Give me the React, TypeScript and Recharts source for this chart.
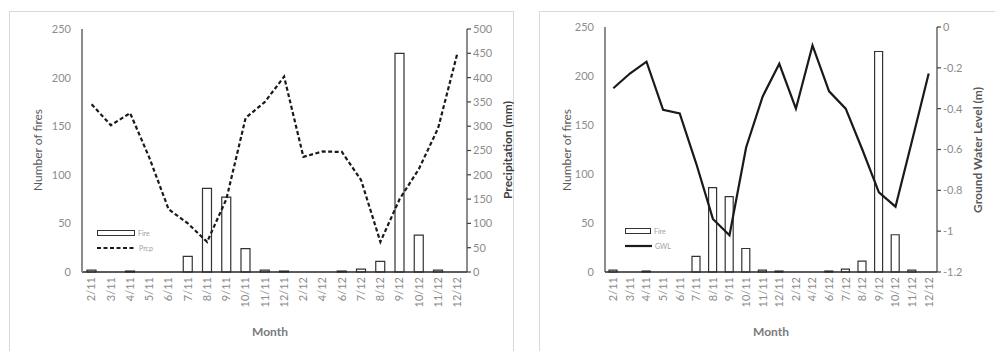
import React from "react";
import { Bar, ComposedChart, Line, XAxis, YAxis } from "recharts";

const MONTHS = [
  "2/11", "3/11", "4/11", "5/11", "6/11", "7/11", "8/11", "9/11", "10/11", "11/11",
  "12/11", "2/12", "4/12", "6/12", "7/12", "8/12", "9/12", "10/12", "11/12", "12/12",
];
const FIRES = [2, 0, 1, 0, 0, 16, 86, 77, 24, 2, 1, 0, 0, 1, 3, 11, 225, 38, 2, 0];
const PRCP = [345, 302, 327, 235, 129, 100, 62, 150, 317, 350, 402, 237, 248, 247, 189, 62, 150, 212, 296, 450];
const GWL = [-0.3, -0.228, -0.17, -0.406, -0.423, -0.67, -0.94, -1.02, -0.59, -0.34, -0.18, -0.4, -0.09, -0.315, -0.4, -0.6, -0.81, -0.88, -0.556, -0.228];

const FIRE_TICKS = [0, 50, 100, 150, 200, 250];
const PRCP_TICKS = [0, 50, 100, 150, 200, 250, 300, 350, 400, 450, 500];
const GWL_TICKS = [0, -0.2, -0.4, -0.6, -0.8, -1, -1.2];

const FONT = "Lato, 'Open Sans', sans-serif";
const TICK = { fontSize: 11, fill: "#8c8c8c", fontFamily: FONT };

const data = MONTHS.map((m, i) => ({ month: m, fire: FIRES[i], prcp: PRCP[i], gwl: GWL[i] }));

function MonthTick(props: any) {
  const { x, y, payload } = props;
  return (
    <g transform={`translate(${x},${y})`}>
      <text transform="rotate(-90)" textAnchor="end" dy="0.35em" {...TICK}>
        {payload.value}
      </text>
    </g>
  );
}

// legend drawn as an overlay so it doesn't eat into the plot area
function MiniLegend({ left, top, boxW, label, dashed }: { left: number; top: number; boxW: number; label: string; dashed: boolean }) {
  return (
    <div style={{ position: "absolute", left, top, fontFamily: FONT, fontSize: 7, color: "#a0a0a0", lineHeight: "8px" }}>
      <div style={{ display: "flex", alignItems: "center", height: 8 }}>
        <div style={{ width: boxW, height: 4, border: "1.3px solid #333", background: "#fff" }} />
        <span style={{ marginLeft: 3 }}>Fire</span>
      </div>
      <div style={{ display: "flex", alignItems: "center", height: 8, marginTop: 7 }}>
        <svg width={boxW + 3} height={4} style={{ display: "block" }}>
          <line x1={0} y1={2} x2={boxW + 3} y2={2} stroke="#1a1a1a" strokeWidth={2.2} strokeDasharray={dashed ? "4 2.5" : undefined} />
        </svg>
        <span style={{ marginLeft: 3 }}>{label}</span>
      </div>
    </div>
  );
}

const vTitle = (text: string, cx: number, cy: number, bold: boolean, color: string, size: number) => (
  <div
    style={{
      position: "absolute",
      left: cx,
      top: cy,
      transform: "translate(-50%, -50%) rotate(-90deg)",
      whiteSpace: "nowrap",
      fontFamily: FONT,
      fontSize: size,
      fontWeight: bold ? 700 : 400,
      color,
    }}
  >
    {text}
  </div>
);

const monthTitle = (cx: number) => (
  <div
    style={{
      position: "absolute",
      left: cx,
      top: 331,
      transform: "translate(-50%, -50%)",
      fontFamily: FONT,
      fontSize: 12,
      fontWeight: 700,
      color: "#7a7a7a",
    }}
  >
    Month
  </div>
);

export default function App() {
  return (
    <div style={{ position: "absolute", left: 0, top: 0, width: 995, height: 351, background: "#fff", overflow: "hidden" }}>
      {/* frames */}
      <div style={{ position: "absolute", left: 9, top: 11, width: 503, height: 345, border: "1px solid #d9d9d9" }} />
      <div style={{ position: "absolute", left: 539, top: 11, width: 460, height: 345, border: "1px solid #d9d9d9" }} />

      <div style={{ position: "absolute", left: 9, top: 11 }}>
        <ComposedChart width={504} height={330} data={data} margin={{ top: 18, right: 0, bottom: 0, left: 0 }} barCategoryGap="26%">
          <XAxis dataKey="month" interval={0} tick={<MonthTick />} tickLine={false} tickSize={0} tickMargin={5} height={69} stroke="#262626" strokeWidth={1.5} />
          <YAxis yAxisId="f" domain={[0, 250]} ticks={FIRE_TICKS} width={73} tick={TICK} tickLine={false} tickMargin={5} stroke="#8c8c8c" strokeWidth={2} />
          <YAxis yAxisId="p" orientation="right" domain={[0, 500]} ticks={PRCP_TICKS} width={46} tick={TICK} tickSize={4} tickMargin={2} stroke="#404040" strokeWidth={1.2} />
          <Bar yAxisId="f" dataKey="fire" barSize={9} fill="#fff" stroke="#333" strokeWidth={1.2} isAnimationActive={false} />
          <Line yAxisId="p" dataKey="prcp" type="linear" stroke="#1a1a1a" strokeWidth={2.2} strokeDasharray="4 2.5" dot={false} isAnimationActive={false} />
        </ComposedChart>
      </div>

      <div style={{ position: "absolute", left: 539, top: 11 }}>
        <ComposedChart width={456} height={330} data={data} margin={{ top: 16, right: 0, bottom: 0, left: 0 }} barCategoryGap="26%">
          <XAxis dataKey="month" interval={0} tick={<MonthTick />} tickLine={false} tickSize={0} tickMargin={5} height={69} stroke="#262626" strokeWidth={1.5} />
          <YAxis yAxisId="f" domain={[0, 250]} ticks={FIRE_TICKS} width={66} tick={TICK} tickLine={false} tickMargin={5} stroke="#404040" strokeWidth={1.2} />
          <YAxis yAxisId="g" orientation="right" domain={[-1.2, 0]} ticks={GWL_TICKS} width={58} tick={TICK} tickSize={4} tickMargin={2} stroke="#404040" strokeWidth={1.2} />
          <Bar yAxisId="f" dataKey="fire" barSize={8} fill="#fff" stroke="#333" strokeWidth={1.2} isAnimationActive={false} />
          <Line yAxisId="g" dataKey="gwl" type="linear" stroke="#1a1a1a" strokeWidth={2.2} dot={false} isAnimationActive={false} />
        </ComposedChart>
      </div>

      <MiniLegend left={97} top={229} boxW={36} label="Prcp" dashed />
      <MiniLegend left={625} top={227} boxW={24} label="GWL" dashed={false} />

      {vTitle("Number of fires", 37, 150, false, "#595959", 12)}
      {vTitle("Precipitation (mm)", 507, 150, true, "#404040", 12)}
      {vTitle("Number of fires", 566, 150, false, "#595959", 12)}
      {vTitle("Ground Water Level (m)", 977, 150, true, "#595959", 12)}
      {monthTitle(270)}
      {monthTitle(771)}
    </div>
  );
}
